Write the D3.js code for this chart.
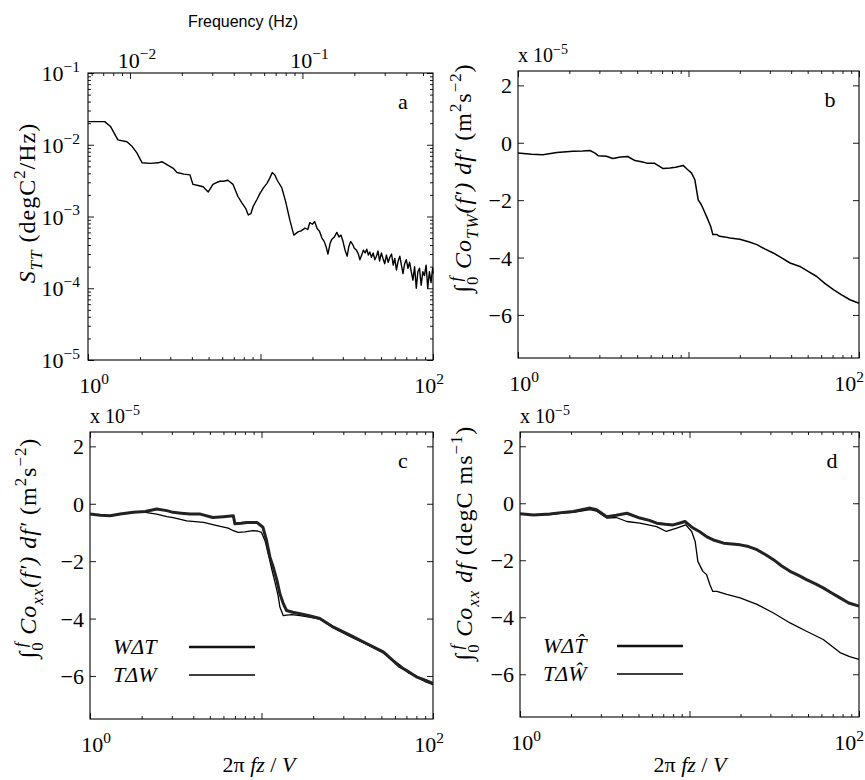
<!DOCTYPE html>
<html>
<head>
<meta charset="utf-8">
<script src="https://cdn.jsdelivr.net/npm/d3@7"></script>
<style>
  body { margin: 0; background: #fff; }
  text { font-family: "Liberation Serif", "Times New Roman", serif; fill: #000; }
</style>
</head>
<body>
<div id="chart"></div>
<script>
// ---- data ----
// panel a: temperature spectrum S_TT vs 2*pi*f*z/V
const specX = [1.0, 1.25, 1.35, 1.49, 1.68, 1.8, 1.92, 2.06, 2.3, 2.55, 2.68, 2.9, 3.12, 3.28, 3.6, 3.9, 4.06, 4.35, 4.65, 4.98,
  5.3, 5.6, 5.82, 6.1, 6.47, 6.93, 7.4, 7.8, 8.2, 8.5, 8.8, 9.06, 9.5, 9.93, 10.4, 10.9, 11.3, 11.7, 12.1, 12.5, 13.3, 14.0,
  14.8, 15.6, 16.5, 17.2, 18.1, 18.8, 19.3, 20.0, 20.6, 21.3, 22.0, 22.7, 23.4, 24.0, 24.6, 25.3, 25.9, 26.8, 27.7, 28.5,
  29.3, 30.0, 30.9, 31.8, 32.5, 33.3, 34.2, 35.0, 36.0, 36.9, 37.7, 38.6, 39.5, 40.4, 41.3, 42.2, 43.0, 44.0, 45.0, 46.0,
  47.0, 48.0, 49.0, 50.2, 51.3, 52.5, 53.7, 55.0, 56.2, 57.5, 58.8, 60.0, 61.4, 62.8, 64.2, 65.6, 67.0, 68.5, 70.0, 71.6,
  73.2, 74.8, 76.5, 78.2, 80.0, 81.7, 83.5, 85.4, 87.3, 89.2, 91.2, 93.2, 95.3, 97.4, 99.5, 100];
const specY = [0.021, 0.021, 0.018, 0.0117, 0.011, 0.0095, 0.0077, 0.0056, 0.0055, 0.0056, 0.0058, 0.0052, 0.0047, 0.0041, 0.0039, 0.0038, 0.0028, 0.0027, 0.0026, 0.0022,
  0.0028, 0.003, 0.0031, 0.0031, 0.0032, 0.0028, 0.0019, 0.00155, 0.0013, 0.00105, 0.0011, 0.00138, 0.0017, 0.0021, 0.0025, 0.0029, 0.0034, 0.0041, 0.0038, 0.0032, 0.0025, 0.0016,
  0.00089, 0.00055, 0.00061, 0.00063, 0.00069, 0.00066, 0.00082, 0.00078, 0.00085, 0.00068, 0.00062, 0.0005, 0.00045, 0.00038, 0.0003, 0.00042, 0.00048, 0.00052, 0.0006, 0.00052,
  0.00055, 0.00046, 0.00034, 0.00028, 0.00038, 0.00045, 0.00041, 0.00036, 0.00034, 0.0003, 0.00025, 0.00029, 0.00034, 0.00031, 0.00035, 0.00029, 0.00032, 0.00027, 0.00031, 0.00025,
  0.00028, 0.00033, 0.00024, 0.00031, 0.00026, 0.00022, 0.00029, 0.00023, 0.00027, 0.0003, 0.00021, 0.00026, 0.00018, 0.00024, 0.00028, 0.00021, 0.00016, 0.00022, 0.00025, 0.00019,
  0.00023, 0.00017, 0.00013, 0.0002, 0.0001, 0.00017, 0.00019, 0.00011, 0.00017, 0.00015, 0.00021, 0.0001, 0.00017, 0.00012, 0.00019, 0.00016];

// panel b: cumulative cospectrum T-W (x 1e-5)
const covX = [1, 1.2, 1.4, 1.69, 2.1, 2.4, 2.64, 2.83, 2.95, 3.3, 3.6, 4.0, 4.4, 4.85, 5.3, 5.7, 6.3, 7.1, 7.8, 8.4, 8.9, 9.3, 9.9, 10.4, 10.9,
  11.4, 11.9, 12.5, 13.0, 13.5, 13.9, 14.7, 15.2, 16.3, 17.5, 20, 22.5, 25.2, 28, 31.4, 35, 39.4, 45, 50, 56.5, 63, 70.8, 79, 88.5, 100];
const covY = [-0.36, -0.4, -0.42, -0.34, -0.3, -0.29, -0.27, -0.36, -0.45, -0.47, -0.55, -0.5, -0.48, -0.62, -0.66, -0.71, -0.71, -0.9, -0.88, -0.85, -0.82, -0.79, -0.94, -1.05, -1.29,
  -1.99, -2.16, -2.45, -2.68, -2.92, -3.2, -3.2, -3.26, -3.28, -3.32, -3.36, -3.45, -3.55, -3.7, -3.84, -4.0, -4.19, -4.31, -4.47, -4.66, -4.9, -5.12, -5.3, -5.47, -5.59];

// panel c: W dT (thick) and T dW (thin)
const cWdtX = [1, 1.15, 1.31, 1.5, 1.79, 2.1, 2.45, 2.8, 3.05, 3.4, 3.83, 4.4, 5.2, 6.0, 6.85, 7.0, 7.6, 8.2, 9.4, 10.2, 10.7, 11.2, 11.7, 12.3, 12.8,
  13.4, 14.0, 15.2, 16.8, 19, 21.9, 26.3, 32.8, 41, 51.3, 64.2, 72, 80, 90, 100];
const cWdtY = [-0.36, -0.4, -0.42, -0.36, -0.3, -0.27, -0.18, -0.24, -0.3, -0.33, -0.36, -0.36, -0.48, -0.45, -0.42, -0.7, -0.68, -0.65, -0.65, -0.82, -1.28, -1.86, -2.2, -2.67, -3.14,
  -3.48, -3.72, -3.78, -3.83, -3.9, -4.0, -4.3, -4.58, -4.87, -5.16, -5.68, -5.85, -6.03, -6.15, -6.26];
const cTdwX = [1, 1.31, 1.79, 2.1, 2.45, 2.8, 3.05, 3.67, 4.6, 5.5, 6.4, 6.85, 7.3, 8.0, 8.9, 9.5, 10.0, 10.5, 11.0, 11.5, 12.0, 12.5, 12.8, 13.4,
  14.0, 15.0, 16.8, 19, 21.9, 26.3, 32.8, 41, 51.3, 64.2, 72, 80, 90, 100];
const cTdwY = [-0.36, -0.42, -0.3, -0.3, -0.36, -0.45, -0.48, -0.6, -0.65, -0.76, -0.85, -0.94, -1.0, -0.98, -0.94, -0.95, -1.0, -1.3, -1.8, -2.3, -2.75, -3.2, -3.6, -3.9,
  -3.88, -3.86, -3.9, -3.95, -4.02, -4.33, -4.62, -4.9, -5.2, -5.62, -5.9, -6.0, -6.2, -6.3];

// panel d: W dT^ (thick) and T dW^ (thin)
const dWdtX = [1, 1.2, 1.5, 1.8, 2.06, 2.59, 2.83, 3.25, 3.7, 4.27, 5.1, 5.8, 6.4, 7.2, 8.0, 8.7, 9.4, 10.5, 11.5, 12.6, 14, 15.9, 17.8, 19.9,
  22.3, 25, 28, 31.3, 35, 39.2, 44, 49, 55, 61.5, 69, 77.3, 87, 100];
const dWdtY = [-0.37, -0.41, -0.38, -0.32, -0.29, -0.17, -0.23, -0.47, -0.42, -0.35, -0.52, -0.6, -0.7, -0.74, -0.76, -0.7, -0.64, -0.87, -1.0, -1.17, -1.3, -1.4, -1.43, -1.46,
  -1.52, -1.63, -1.8, -1.98, -2.2, -2.39, -2.53, -2.68, -2.82, -2.97, -3.15, -3.32, -3.5, -3.61];
const dTdwX = [1, 1.2, 1.5, 1.8, 2.06, 2.59, 2.83, 3.25, 3.7, 4.27, 5.1, 6.4, 7.3, 8.4, 9.5, 10.3, 10.8, 11.2, 12.0, 12.6, 13.2, 13.7, 14.5,
  16.6, 19.9, 25, 31.3, 39.2, 49, 61.5, 77.3, 88, 100];
const dTdwY = [-0.37, -0.41, -0.4, -0.35, -0.32, -0.22, -0.28, -0.52, -0.5, -0.64, -0.7, -0.82, -0.99, -0.87, -0.76, -0.99, -1.34, -2.04, -2.39, -2.5, -2.86, -3.09, -3.09,
  -3.2, -3.32, -3.55, -3.85, -4.2, -4.49, -4.78, -5.24, -5.38, -5.48];

// tick values
const xMajor = [1, 10, 100];
const xLabelled = [1, 100];
const linTicks = [-6, -4, -2, 0, 2];
const logYTicks = [1e-5, 1e-4, 1e-3, 1e-2, 1e-1];
const freqTicks = [0.01, 0.1];

// ---- drawing ----
const W = 865, H = 780, FS = 22, YFS = 24;
const svg = d3.select('#chart').append('svg').attr('width', W).attr('height', H);
svg.append('rect').attr('width', W).attr('height', H).attr('fill', '#fff');

// minor tick positions of a log scale between two decades
function logMinor(lo, hi) {
  const out = [];
  for (let d = lo; d < hi; d++) for (let k = 2; k <= 9; k++) out.push(k * Math.pow(10, d));
  return out;
}

// inward ticks with a d3 axis, no labels, no domain line
function tickRow(g, axisFn, scale, values, size, tx, ty) {
  g.append('g')
    .attr('transform', `translate(${tx},${ty})`)
    .call(axisFn(scale).tickValues(values).tickSize(-size).tickFormat(''))
    .call(s => s.select('.domain').remove())
    .selectAll('line').attr('stroke-width', 0.9);
}

// text with sub/superscript pieces
function rich(sel, parts, size) {
  let shift = 0;
  parts.forEach(p => {
    const target = p.sup ? -0.42 * size : p.sub ? 0.3 * size : 0;
    const ts = sel.append('tspan').attr('dy', target - shift).text(p.t);
    if (p.sup || p.sub) ts.attr('font-size', size * 0.7);
    if (p.i) ts.attr('font-style', 'italic');
    if (p.dx) ts.attr('dx', p.dx);
    shift = target;
  });
  return sel;
}

function powLabel(g, x, y, exp, anchor) {
  const t = g.append('text').attr('x', x).attr('y', y).attr('text-anchor', anchor).attr('font-size', FS);
  rich(t, [{t: '10'}, {t: exp, sup: true}], FS);
}

function panel(box, yScale, isLog) {
  const g = svg.append('g');
  const x = d3.scaleLog().domain([1, 100]).range([box.x0, box.x1]);
  // frame
  g.append('rect').attr('x', box.x0).attr('y', box.y0)
    .attr('width', box.x1 - box.x0).attr('height', box.y1 - box.y0)
    .attr('fill', 'none').attr('stroke', '#000').attr('stroke-width', 1.1);
  // x ticks bottom (and top unless overridden)
  tickRow(g, d3.axisBottom, x, logMinor(0, 2), 3, 0, box.y1);
  tickRow(g, d3.axisBottom, x, xMajor, 6, 0, box.y1);
  if (!box.freqTop) {
    tickRow(g, d3.axisTop, x, logMinor(0, 2), 3, 0, box.y0);
    tickRow(g, d3.axisTop, x, xMajor, 6, 0, box.y0);
  }
  xLabelled.forEach(v => powLabel(g, x(v) + (v === 1 ? 6 : box.rightShift), box.y1 + 33, v === 1 ? '0' : '2', 'middle'));
  // y ticks
  if (isLog) {
    tickRow(g, d3.axisLeft, yScale, logMinor(-5, -1), 3, box.x0, 0);
    tickRow(g, d3.axisRight, yScale, logMinor(-5, -1), 3, box.x1, 0);
    tickRow(g, d3.axisLeft, yScale, logYTicks, 6, box.x0, 0);
    tickRow(g, d3.axisRight, yScale, logYTicks, 6, box.x1, 0);
    logYTicks.forEach(v => powLabel(g, box.x0 - 8, yScale(v) + 8, '\u2212' + (-Math.round(Math.log10(v))), 'end'));
  } else {
    tickRow(g, d3.axisLeft, yScale, linTicks, 6, box.x0, 0);
    tickRow(g, d3.axisRight, yScale, linTicks, 6, box.x1, 0);
    linTicks.forEach(v => g.append('text').attr('x', box.x0 - 6).attr('y', yScale(v) + 8)
      .attr('text-anchor', 'end').attr('font-size', FS).text(v < 0 ? '\u2212' + (-v) : String(v)));
    const t = g.append('text').attr('x', box.x0).attr('y', box.y0 - 9).attr('font-size', 20);
    rich(t, [{t: 'x 10'}, {t: '\u22125', sup: true}], 20);
  }
  // panel letter
  g.append('text').attr('x', box.letterX).attr('y', box.y0 + 36).attr('text-anchor', 'middle')
    .attr('font-size', FS).text(box.letter);
  return {g, x};
}

function curve(p, yScale, xs, ys, width, color) {
  const line = d3.line().x(d => p.x(d[0])).y(d => yScale(d[1]));
  p.g.append('path').datum(d3.zip(xs, ys)).attr('d', line)
    .attr('fill', 'none').attr('stroke', color).attr('stroke-width', width).attr('stroke-linejoin', 'round');
}

function ylabel(cx, cy, parts) {
  const t = svg.append('text').attr('transform', `translate(${cx},${cy}) rotate(-90)`)
    .attr('text-anchor', 'middle').attr('font-size', YFS).attr('letter-spacing', 1);
  rich(t, parts, YFS);
}

function legend(p, x0, lx0, lx1, y, parts, width, color) {
  const t = p.g.append('text').attr('x', x0).attr('y', y + 7).attr('font-size', FS);
  rich(t, parts, FS);
  p.g.append('line').attr('x1', lx0).attr('x2', lx1).attr('y1', y).attr('y2', y)
    .attr('stroke', color).attr('stroke-width', width);
}

const integ = [{t: '\u222B', i: true}, {t: '0', sub: true}, {t: 'f', sup: true, i: true, dx: -6}];

// ---- panel a ----
const boxA = {x0: 88, x1: 433, y0: 73, y1: 360, letter: 'a', letterX: 403, freqTop: true, rightShift: -4};
const yA = d3.scaleLog().domain([1e-5, 1e-1]).range([boxA.y1, boxA.y0]);
const pA = panel(boxA, yA, true);
curve(pA, yA, specX, specY, 1.4, '#000');
const freq = d3.scaleLog().domain([1 / 175, 100 / 175]).range([boxA.x0, boxA.x1]);
tickRow(pA.g, d3.axisTop, freq, logMinor(-3, 0).filter(v => v >= 1 / 175 && v <= 100 / 175), 3, 0, boxA.y0);
tickRow(pA.g, d3.axisTop, freq, freqTicks, 6, 0, boxA.y0);
freqTicks.forEach(v => powLabel(pA.g, freq(v) + 7, boxA.y0 - 5, '\u2212' + (-Math.round(Math.log10(v))), 'middle'));
svg.append('text').attr('x', 243).attr('y', 27).attr('text-anchor', 'middle')
  .style('font-family', 'Liberation Sans, Arial, sans-serif').attr('font-size', 16).text('Frequency (Hz)');
ylabel(35, 203, [{t: 'S', i: true}, {t: 'TT', sub: true, i: true}, {t: ' (degC'}, {t: '2', sup: true}, {t: '/Hz)'}]);

// ---- panel b ----
const boxB = {x0: 518, x1: 859, y0: 71, y1: 358, letter: 'b', letterX: 830, rightShift: -10};
const yB = d3.scaleLinear().domain([-7.5, 2.5]).range([boxB.y1, boxB.y0]);
const pB = panel(boxB, yB, false);
curve(pB, yB, covX, covY, 1.5, '#000');
ylabel(471, 178, integ.concat([{t: ' Co', i: true}, {t: 'TW', sub: true, i: true}, {t: '(f\u2032) df\u2032', i: true},
  {t: ' (m'}, {t: '2', sup: true}, {t: 's'}, {t: '\u22122', sup: true}, {t: ')'}]));

// ---- panel c ----
const boxC = {x0: 90, x1: 433, y0: 432, y1: 719, letter: 'c', letterX: 403, rightShift: -4};
const yC = d3.scaleLinear().domain([-7.5, 2.5]).range([boxC.y1, boxC.y0]);
const pC = panel(boxC, yC, false);
curve(pC, yC, cTdwX, cTdwY, 1.3, '#000');
curve(pC, yC, cWdtX, cWdtY, 3, '#222');
legend(pC, 113, 189, 255, 647, [{t: 'W\u0394T', i: true}], 2.4, '#111');
legend(pC, 113, 189, 255, 675, [{t: 'T\u0394W', i: true}], 1.3, '#000');
ylabel(36, 548, integ.concat([{t: ' Co', i: true}, {t: 'xx', sub: true, i: true}, {t: '(f\u2032) df\u2032', i: true},
  {t: ' (m'}, {t: '2', sup: true}, {t: 's'}, {t: '\u22122', sup: true}, {t: ')'}]));
svg.append('text').attr('x', 259).attr('y', 772).attr('text-anchor', 'middle').attr('font-size', FS)
  .call(t => rich(t, [{t: '2\u03C0 '}, {t: 'fz', i: true}, {t: ' / '}, {t: 'V', i: true}], FS));

// ---- panel d ----
const boxD = {x0: 520, x1: 859, y0: 432, y1: 717, letter: 'd', letterX: 832, rightShift: -10};
const yD = d3.scaleLinear().domain([-7.5, 2.5]).range([boxD.y1, boxD.y0]);
const pD = panel(boxD, yD, false);
curve(pD, yD, dTdwX, dTdwY, 1.3, '#000');
curve(pD, yD, dWdtX, dWdtY, 3, '#222');
legend(pD, 543, 617, 683, 646, [{t: 'W\u0394T\u0302', i: true}], 2.4, '#111');
legend(pD, 543, 617, 683, 674, [{t: 'T\u0394W\u0302', i: true}], 1.3, '#000');
ylabel(472, 543, integ.concat([{t: ' Co', i: true}, {t: 'xx', sub: true, i: true}, {t: ' df', i: true},
  {t: ' (degC ms'}, {t: '\u22121', sup: true}, {t: ')'}]));
svg.append('text').attr('x', 690).attr('y', 772).attr('text-anchor', 'middle').attr('font-size', FS)
  .call(t => rich(t, [{t: '2\u03C0 '}, {t: 'fz', i: true}, {t: ' / '}, {t: 'V', i: true}], FS));
</script>
</body>
</html>
